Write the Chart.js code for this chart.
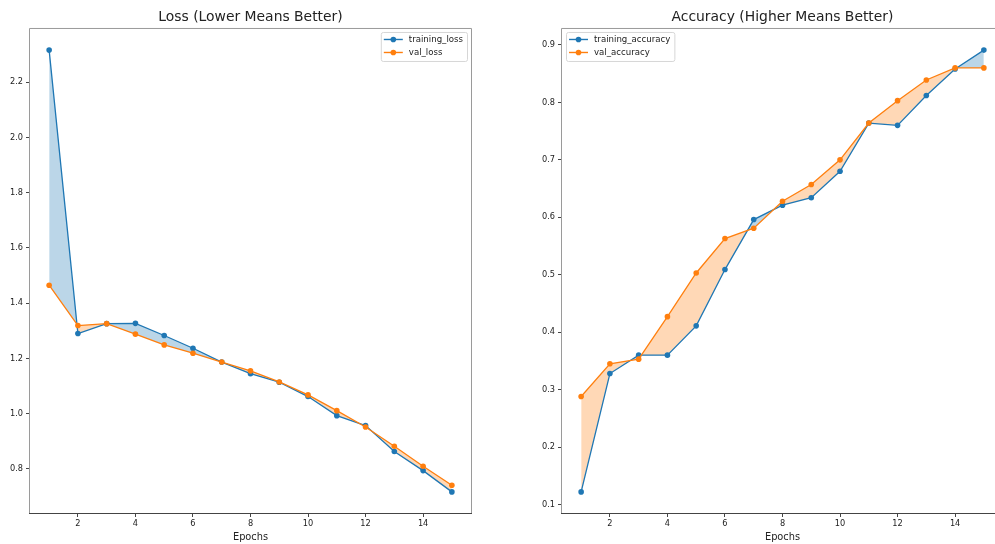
<!DOCTYPE html>
<html>
<head>
<meta charset="utf-8">
<script src="https://cdn.jsdelivr.net/npm/chart.js@4/dist/chart.umd.min.js"></script>
<style>
  html, body { margin: 0; padding: 0; background: #fff; overflow: hidden; width: 995px; height: 544px; }
  canvas { position: absolute; top: 0; }
</style>
</head>
<body>
<canvas id="lossChart" width="500" height="544" style="left:0"></canvas>
<canvas id="accChart" width="520" height="544" style="left:500px"></canvas>
<script>
// data
const epochs = [1, 2, 3, 4, 5, 6, 7, 8, 9, 10, 11, 12, 13, 14, 15];
const trainingLoss = [2.316, 1.290, 1.326, 1.327, 1.283, 1.237, 1.187, 1.145, 1.114, 1.062, 0.993, 0.957, 0.863, 0.794, 0.717];
const valLoss = [1.465, 1.319, 1.326, 1.288, 1.249, 1.219, 1.187, 1.155, 1.115, 1.068, 1.011, 0.952, 0.882, 0.810, 0.741];
const trainingAcc = [0.122, 0.328, 0.360, 0.360, 0.411, 0.509, 0.596, 0.621, 0.634, 0.680, 0.764, 0.760, 0.812, 0.858, 0.891];
const valAcc = [0.288, 0.345, 0.353, 0.427, 0.503, 0.563, 0.581, 0.628, 0.657, 0.700, 0.764, 0.803, 0.839, 0.860, 0.860];
const xTicks = [2, 4, 6, 8, 10, 12, 14];
const lossTicks = [0.8, 1.0, 1.2, 1.4, 1.6, 1.8, 2.0, 2.2];
const accTicks = [0.1, 0.2, 0.3, 0.4, 0.5, 0.6, 0.7, 0.8, 0.9];

const BLUE = '#1f77b4';
const ORANGE = '#ff7f0e';
const FONT = "'DejaVu Sans', sans-serif";
const TEXT = '#222';

function pts(vals) {
    return epochs.map((e, i) => ({ x: e, y: vals[i] }));
}

// matplotlib-like frame round the plot area
const framePlugin = {
    id: 'frame',
    afterDraw(chart, args, opts) {
        const a = chart.chartArea;
        const ctx = chart.ctx;
        ctx.save();
        ctx.lineWidth = 1;
        ctx.strokeStyle = '#9a9a9a';
        ctx.beginPath();
        ctx.moveTo(a.left + 0.5, a.bottom);
        ctx.lineTo(a.left + 0.5, a.top + 0.5);
        ctx.lineTo(a.right - 0.5, a.top + 0.5);
        if (opts.right) ctx.lineTo(a.right - 0.5, a.bottom);
        ctx.stroke();
        ctx.strokeStyle = '#444';
        ctx.beginPath();
        ctx.moveTo(a.left, a.bottom - 0.5);
        ctx.lineTo(a.right, a.bottom - 0.5);
        ctx.stroke();
        ctx.restore();
    }
};

// legend drawn inside the axes, like matplotlib
const innerLegend = {
    id: 'innerLegend',
    afterDraw(chart, args, opts) {
        const ctx = chart.ctx;
        const a = chart.chartArea;
        ctx.save();
        ctx.font = '8.6px ' + FONT;
        const items = chart.data.datasets;
        const tw = Math.max(...items.map(d => ctx.measureText(d.label).width));
        const w = 3 + 19 + 6 + tw + 4;
        const h = 29;
        const x = opts.side === 'right' ? a.right - 5 - w : a.left + 5;
        const y = a.top + 4;
        ctx.fillStyle = 'rgba(255,255,255,0.85)';
        ctx.strokeStyle = '#d6d6d6';
        ctx.lineWidth = 1;
        ctx.beginPath();
        ctx.roundRect(x + 0.5, y + 0.5, w, h, 2);
        ctx.fill();
        ctx.stroke();
        items.forEach((d, i) => {
            const ly = y + 7.5 + i * 13;
            ctx.strokeStyle = d.borderColor;
            ctx.lineWidth = 1.4;
            ctx.beginPath();
            ctx.moveTo(x + 3, ly);
            ctx.lineTo(x + 22, ly);
            ctx.stroke();
            ctx.fillStyle = d.borderColor;
            ctx.beginPath();
            ctx.arc(x + 12.5, ly, 2.8, 0, Math.PI * 2);
            ctx.fill();
            ctx.fillStyle = TEXT;
            ctx.textBaseline = 'middle';
            ctx.fillText(d.label, x + 28, ly);
        });
        ctx.restore();
    }
};

function makeChart(id, cfg) {
    const fill = { target: 1, above: 'rgba(31,119,180,0.3)', below: 'rgba(255,127,14,0.3)' };
    const line = (label, vals, color, order, f) => ({
        label: label,
        data: pts(vals),
        borderColor: color,
        backgroundColor: color,
        pointBackgroundColor: color,
        pointBorderColor: color,
        pointRadius: 2.8,
        pointBorderWidth: 0,
        borderWidth: 1.3,
        tension: 0,
        order: order,
        fill: f
    });
    return new Chart(document.getElementById(id), {
        type: 'line',
        data: {
            datasets: [
                line(cfg.names[0], cfg.train, BLUE, 1, fill),
                line(cfg.names[1], cfg.val, ORANGE, 0, false)
            ]
        },
        options: {
            responsive: false,
            animation: false,
            layout: { padding: { left: 0, right: cfg.padRight, top: 0, bottom: 0 } },
            plugins: {
                legend: { display: false },
                tooltip: { enabled: false },
                innerLegend: { side: cfg.legendSide },
                frame: { right: cfg.rightSpine },
                title: {
                    display: true,
                    text: cfg.title,
                    fullSize: false,
                    color: TEXT,
                    font: { family: FONT, size: 13.9, weight: 'normal', lineHeight: 1.2 },
                    padding: { top: 8.6, bottom: 2.7 }
                }
            },
            scales: {
                x: {
                    type: 'linear',
                    min: 0.3,
                    max: 15.7,
                    afterBuildTicks: s => { s.ticks = xTicks.map(v => ({ value: v })); },
                    afterFit: s => { s.height = 30; },
                    grid: { drawOnChartArea: false, drawTicks: true, tickLength: 3, color: '#444' },
                    border: { display: false },
                    ticks: { color: TEXT, padding: 2, maxRotation: 0, font: { family: FONT, size: 8.2 },
                             callback: v => String(v) },
                    title: { display: true, text: 'Epochs', color: TEXT,
                             font: { family: FONT, size: 9.8, lineHeight: 1.2 }, padding: { top: 0, bottom: 0.4 } }
                },
                y: {
                    type: 'linear',
                    min: cfg.yMin,
                    max: cfg.yMax,
                    afterBuildTicks: s => { s.ticks = cfg.yTicks.map(v => ({ value: v })); },
                    afterFit: s => { s.width = cfg.yWidth; },
                    grid: { drawOnChartArea: false, drawTicks: true, tickLength: 3, color: '#444' },
                    border: { display: false },
                    ticks: { color: TEXT, padding: 3, font: { family: FONT, size: 8.2 },
                             callback: v => Number(v).toFixed(1) }
                }
            }
        },
        plugins: [framePlugin, innerLegend]
    });
}

makeChart('lossChart', {
    title: 'Loss (Lower Means Better)',
    names: ['training_loss', 'val_loss'],
    train: trainingLoss,
    val: valLoss,
    yMin: 0.637,
    yMax: 2.396,
    yTicks: lossTicks,
    yWidth: 29,
    padRight: 28,
    legendSide: 'right',
    rightSpine: true
});

makeChart('accChart', {
    title: 'Accuracy (Higher Means Better)',
    names: ['training_accuracy', 'val_accuracy'],
    train: trainingAcc,
    val: valAcc,
    yMin: 0.0835,
    yMax: 0.9295,
    yTicks: accTicks,
    yWidth: 61,
    padRight: 16,
    legendSide: 'left',
    rightSpine: false
});
</script>
</body>
</html>
